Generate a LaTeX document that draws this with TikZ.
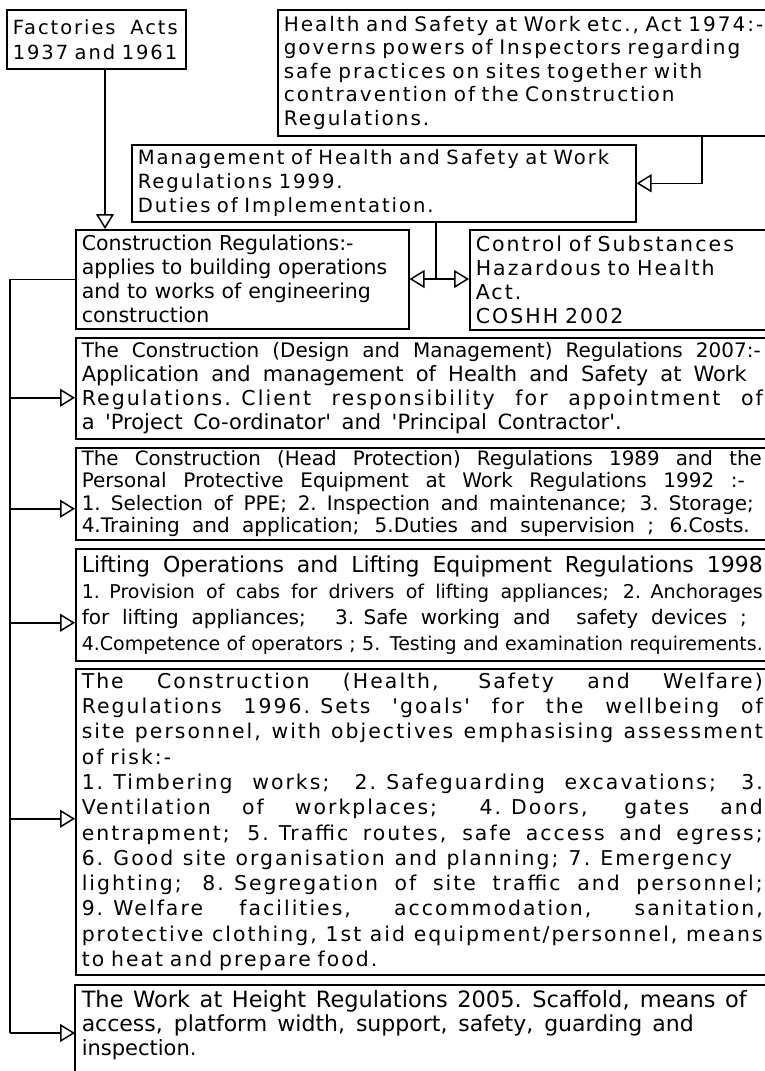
\documentclass[tikz,border=0pt]{standalone}
\usepackage{fontspec}
\setmainfont{DejaVu Sans}
\newfontfamily\spacedsans[LetterSpace=10]{DejaVu Sans}
\newfontfamily\plainsans{DejaVu Sans}
\usetikzlibrary{arrows.meta}
\newcommand{\spread}[2][681pt]{\makebox[#1][s]{\spaceskip=\fontdimen2\font plus 1fil\relax #2}}
\newcommand{\size}[1]{\fontsize{#1}{24}\selectfont}
\tikzset{
    box/.style={draw, line width=1.5pt, anchor=north west, inner xsep=6pt,
                inner ysep=2pt, align=left},
    wide/.style 2 args={font=\spacedsans\fontsize{#1}{#2}\selectfont},
    tight/.style 2 args={font=\plainsans\fontsize{#1}{#2}\selectfont},
    link/.style={line width=1.5pt},
    flow/.style={link, -{Triangle[open, length=15pt, width=18pt]}},
}

\begin{document}
\begin{tikzpicture}[x=1pt, y=-1pt]
    \useasboundingbox (0,0) rectangle (765,1071);
    \clip (0,0) rectangle (765,1071);

    % acts and regulations at the top
    \node[box, wide={19.5}{25}, minimum width=179pt, minimum height=59pt,
          text width=167pt] (factories) at (6,9)
        {\spread[165pt]{Factories Acts}\\1937 and 1961};
    \node[box, wide={20}{23.5}, minimum width=491pt, minimum height=126pt,
          text width=479pt] (hsact) at (277,9)
        {Health and Safety at Work etc., Act 1974:-\\
         governs powers of Inspectors regarding\\
         safe practices on sites together with\\
         contravention of the Construction\\
         Regulations.};
    \node[box, wide={19.6}{24}, minimum width=504pt, minimum height=77pt,
          text width=492pt] (mgmt) at (131,144)
        {Management of Health and Safety at Work\\
         Regulations 1999.\\
         Duties of Implementation.};
    \node[box, tight={20.5}{24}, minimum width=331pt, minimum height=99pt,
          text width=321pt] (constr) at (75,229)
        {Construction Regulations:-\\
         applies to building operations\\
         and to works of engineering\\
         construction};
    \node[box, wide={20.5}{24}, minimum width=299pt, minimum height=100pt,
          text width=287pt] (coshh) at (469,229)
        {Control of Substances\\
         Hazardous to Health\\
         Act.\\
         COSHH 2002};

    % regulations fed from the left
    \node[box, tight={21}{24}, minimum width=693pt, minimum height=101pt,
          text width=681pt] (cdm) at (75,337)
        {\spread[679pt]{\size{20}The Construction (Design and Management) Regulations 2007:-}\\
         \spread[665pt]{Application and management of Health and Safety at Work}\\
         \spread{\spacedsans\size{20.5}Regulations. Client responsibility for appointment of}\\
         \spread[540pt]{a 'Project Co-ordinator' and 'Principal Contractor'.}};
    \node[box, tight={20}{22.5}, minimum width=693pt, minimum height=92pt,
          text width=681pt] (ppe) at (75,447)
        {\spread[680pt]{\size{19.8}The Construction (Head Protection) Regulations 1989 and the}\\
         \spread[663pt]{Personal Protective Equipment at Work Regulations 1992 :-}\\
         \spread[672pt]{1. Selection of PPE; 2. Inspection and maintenance; 3. Storage;}\\
         \spread[668pt]{4.Training and application; 5.Duties and supervision ; 6.Costs.}};
    \node[box, tight={19}{26}, minimum width=693pt, minimum height=112pt,
          text width=681pt] (loler) at (75,548)
        {\spread{\size{22}Lifting Operations and Lifting Equipment Regulations 1998}\\
         \spread{1. Provision of cabs for drivers of lifting appliances; 2. Anchorages}\\
         \spread[665pt]{\size{20}for lifting appliances; \ 3. Safe working and \ safety devices ;}\\
         \spread{4.Competence of operators ; 5. Testing and examination requirements.}};
    \node[box, wide={20.4}{25.3}, minimum width=693pt, minimum height=306pt,
          text width=681pt] (welfare) at (75,668)
        {\spread{The Construction (Health, Safety and Welfare)}\\
         \spread{Regulations 1996. Sets 'goals' for the wellbeing of}\\
         \spread{site personnel, with objectives emphasising assessment}\\
         of risk:-\\
         \spread{1. Timbering works; 2. Safeguarding excavations; 3.}\\
         \spread{Ventilation of workplaces; 4. Doors, gates and}\\
         \spread{entrapment; 5. Traffic routes, safe access and egress;}\\
         \spread[650pt]{6. Good site organisation and planning; 7. Emergency}\\
         \spread{lighting; 8. Segregation of site traffic and personnel;}\\
         \spread{9. Welfare facilities, accommodation, sanitation,}\\
         \spread{protective clothing, 1st aid equipment/personnel, means}\\
         to heat and prepare food.};
    \node[box, draw=none, tight={21}{24}, minimum width=693pt,
          minimum height=78pt, text width=681pt] (height) at (75,985)
        {\spread[665pt]{\size{22.5}The Work at Height Regulations 2005. Scaffold, means of}\\
         \spread[612pt]{\size{22}access, platform width, support, safety, guarding and}\\
         inspection.};
    \draw[link] ([yshift=-20pt]height.south west) |- (height.north east);

    % connectors
    \coordinate (facdrop) at (105,0);
    \coordinate (hsdrop) at (702,0);
    \coordinate (split) at (436,279);
    \coordinate (bus) at (10,1033);
    \draw[flow] (factories.south -| facdrop) -- (constr.north -| facdrop);
    \draw[flow] (hsact.south -| hsdrop) |- (mgmt.east);
    \draw[link] (mgmt.south -| split) -- (split);
    \draw[flow] (split) -- (split -| constr.east);
    \draw[flow] (split) -- (split -| coshh.west);
    \draw[link] (constr.west) -| (bus);
    \draw[flow] ([yshift=-9.5pt]cdm.west -| bus) -- ([yshift=-9.5pt]cdm.west);
    \draw[flow] ([yshift=-15pt]ppe.west -| bus) -- ([yshift=-15pt]ppe.west);
    \draw[flow] ([yshift=-18pt]loler.west -| bus) -- ([yshift=-18pt]loler.west);
    \draw[flow] ([yshift=3pt]welfare.west -| bus) -- ([yshift=3pt]welfare.west);
    \draw[flow] (bus) -- (bus -| height.west);

\end{tikzpicture}
\end{document}
